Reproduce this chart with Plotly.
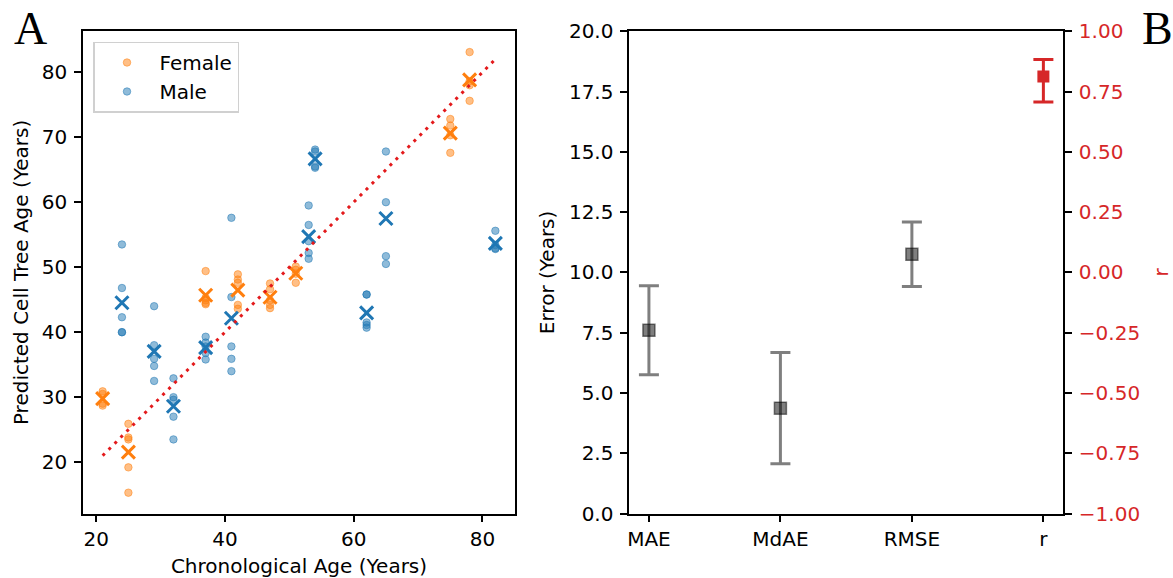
import numpy as np
import plotly.graph_objects as go

# ---------------- Panel A data ----------------
female_ages = [21, 25, 37, 42, 47, 51, 75, 78]
female_preds = [
    [30.9, 30.5, 29.0, 28.7],
    [25.9, 23.8, 23.5, 19.2, 15.3],
    [49.4, 45.3, 44.9, 44.5, 44.3],
    [48.9, 48.1, 47.6, 44.2, 43.6],
    [47.5, 46.6, 44.9, 44.2, 43.7],
    [50.1, 49.6, 49.0, 47.6],
    [72.8, 71.8, 70.3, 67.6],
    [83.1, 78.6, 78.0, 75.6],
]
male_ages = [24, 29, 32, 37, 41, 53, 54, 62, 65, 82]
male_preds = [
    [53.5, 46.8, 42.3, 40.0, 40.0],
    [44.0, 38.0, 35.9, 34.8, 32.5],
    [32.9, 30.0, 29.6, 27.0, 23.5],
    [39.3, 38.4, 37.8, 36.8, 35.8],
    [57.6, 45.4, 37.8, 35.9, 34.0],
    [59.5, 56.5, 54.0, 52.2, 51.3],
    [68.1, 67.8, 65.5, 65.3],
    [45.8, 45.8, 41.5, 41.1, 40.7],
    [67.8, 60.0, 51.7, 50.5],
    [55.6, 53.4, 52.9, 52.8],
]
identity_x = [21, 82]
identity_y = [21, 82]

# ---------------- Panel B data ----------------
metric_names = ["MAE", "MdAE", "RMSE", "r"]
error_values = [7.60, 4.37, 10.75]
error_ci = [1.85, 2.31, 1.34]
r_value = 0.8125
r_ci_plus = 0.0705
r_ci_minus = 0.1055

ORANGE = "#ff7f0e"
BLUE = "#1f77b4"
RED = "#d62728"
FONT = "DejaVu Sans"


def flat(ages, preds):
    xs, ys = [], []
    for a, p in zip(ages, preds):
        xs += [a] * len(p)
        ys += p
    return xs, ys


fig = go.Figure()

fx, fy = flat(female_ages, female_preds)
mx, my = flat(male_ages, male_preds)

fig.add_trace(go.Scatter(
    x=fx, y=fy, mode="markers", name="Female",
    marker=dict(size=7.5, color="rgba(255,127,14,0.5)",
                line=dict(width=1, color="rgba(255,127,14,0.5)")),
    xaxis="x", yaxis="y"))
fig.add_trace(go.Scatter(
    x=mx, y=my, mode="markers", name="Male",
    marker=dict(size=7.5, color="rgba(31,119,180,0.5)",
                line=dict(width=1, color="rgba(31,119,180,0.5)")),
    xaxis="x", yaxis="y"))

fig.add_trace(go.Scatter(
    x=female_ages, y=[float(np.mean(p)) for p in female_preds], mode="markers",
    showlegend=False,
    marker=dict(symbol="x-thin", size=13, color=ORANGE, line=dict(width=3, color=ORANGE)),
    xaxis="x", yaxis="y"))
fig.add_trace(go.Scatter(
    x=male_ages, y=[float(np.mean(p)) for p in male_preds], mode="markers",
    showlegend=False,
    marker=dict(symbol="x-thin", size=13, color=BLUE, line=dict(width=3, color=BLUE)),
    xaxis="x", yaxis="y"))

fig.add_trace(go.Scatter(
    x=identity_x, y=identity_y, mode="lines", showlegend=False,
    line=dict(color="#e31a1c", width=3, dash="3px,5.5px"),
    xaxis="x", yaxis="y"))

# Panel B
fig.add_trace(go.Scatter(
    x=metric_names[:3], y=error_values, mode="markers", showlegend=False,
    marker=dict(symbol="square", size=12, color="rgba(0,0,0,0.5)",
                line=dict(width=1.5, color="rgba(0,0,0,0.5)")),
    error_y=dict(type="data", array=error_ci, symmetric=True,
                 color="rgba(0,0,0,0.5)", thickness=3, width=10),
    xaxis="x2", yaxis="y2"))
fig.add_trace(go.Scatter(
    x=[metric_names[3]], y=[r_value], mode="markers", showlegend=False,
    marker=dict(symbol="square", size=12, color=RED, line=dict(width=0)),
    error_y=dict(type="data", array=[r_ci_plus], arrayminus=[r_ci_minus],
                 symmetric=False, color=RED, thickness=3, width=10),
    xaxis="x2", yaxis="y3"))

axis_common = dict(showline=True, linecolor="black", linewidth=1.5,
                   ticks="outside", ticklen=7, tickwidth=1.5, tickcolor="black",
                   showgrid=False, zeroline=False, automargin=False,
                   tickfont=dict(family=FONT, size=20, color="black"))

ydom = [1 - 513.5 / 578, 1 - 31.3 / 578]

fig.update_layout(
    template="none",
    width=1173, height=578,
    margin=dict(l=0, r=0, t=0, b=0, pad=0),
    paper_bgcolor="white", plot_bgcolor="white",
    font=dict(family=FONT, size=20, color="black"),
    showlegend=True,
    legend=dict(x=93 / 1173, y=1 - 41.5 / 578, xanchor="left", yanchor="top",
                bordercolor="#d0d0d0", borderwidth=1.5, bgcolor="rgba(255,255,255,0.8)",
                font=dict(family=FONT, size=20, color="black"),
                itemwidth=55, tracegroupgap=0),
    xaxis=dict(domain=[83 / 1173, 515 / 1173], range=[17.95, 85.05], mirror=True,
               tickvals=[20, 40, 60, 80], anchor="y",
               title=dict(text="Chronological Age (Years)", font=dict(family=FONT, size=20),
                          standoff=9),
               **axis_common),
    yaxis=dict(domain=ydom, range=[12.1, 86.3], mirror=True,
               tickvals=[20, 30, 40, 50, 60, 70, 80], anchor="x", ticklabelstandoff=3,
               title=dict(text="Predicted Cell Tree Age (Years)", font=dict(family=FONT, size=20),
                          standoff=8),
               **axis_common),
    xaxis2=dict(domain=[629.2 / 1173, 1063.1 / 1173], type="category",
                categoryorder="array", categoryarray=metric_names,
                range=[-0.15, 3.15], mirror=True, anchor="y2",
                **axis_common),
    yaxis2=dict(domain=ydom, range=[0, 20], tickvals=[0, 2.5, 5, 7.5, 10, 12.5, 15, 17.5, 20],
                tickformat=".1f", anchor="x2", ticklabelstandoff=3,
                title=dict(text="Error (Years)", font=dict(family=FONT, size=20), standoff=9),
                **axis_common),
    yaxis3=dict(overlaying="y2", side="right", anchor="x2", range=[-1, 1],
                tickvals=[-1, -0.75, -0.5, -0.25, 0, 0.25, 0.5, 0.75, 1],
                tickformat=".2f", ticklabelstandoff=3, automargin=False,
                title=dict(text="r", font=dict(family=FONT, size=20, color=RED), standoff=21),
                showline=True, linecolor="black", linewidth=1.5,
                ticks="outside", ticklen=7, tickwidth=1.5, tickcolor="black",
                showgrid=False, zeroline=False,
                tickfont=dict(family=FONT, size=20, color=RED)),
)

fig.add_annotation(text="A", x=12 / 1173, y=1 - 29 / 578, xref="paper", yref="paper",
                   xanchor="left", yanchor="middle", showarrow=False,
                   font=dict(family="Liberation Serif", size=46, color="black"))
fig.add_annotation(text="B", x=1140 / 1173, y=1 - 29 / 578, xref="paper", yref="paper",
                   xanchor="left", yanchor="middle", showarrow=False,
                   font=dict(family="Liberation Serif", size=46, color="black"))

fig.write_html("out.html")
